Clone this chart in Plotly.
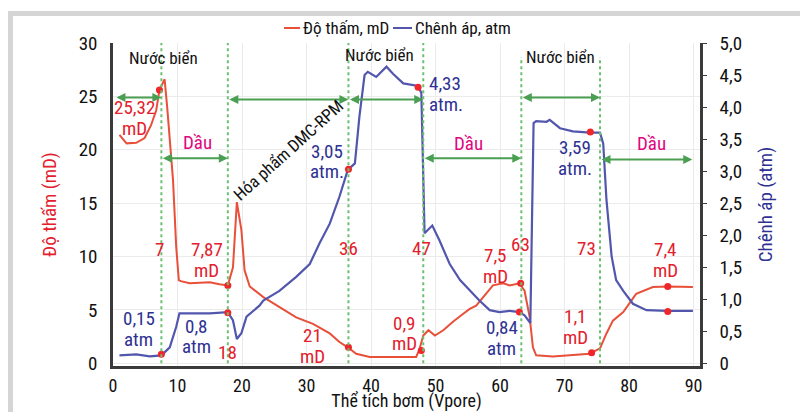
import plotly.graph_objects as go

# ---------------- data ----------------
vol_perm = [1.0, 2.1, 3.6, 4.9, 5.9, 6.7, 7.2, 8.0, 8.4, 9.3, 9.8, 10.2, 10.5, 11.9, 15.0, 16.5, 17.8,
            18.6, 19.2, 19.9, 20.4, 21.2, 23.3, 25.8, 28.4, 31.0, 33.6, 35.1, 36.4, 37.7, 39.8, 43.9,
            47.0, 47.5, 48.1, 48.9, 49.9, 51.2, 52.7, 54.3, 55.3, 56.3, 57.4, 58.9, 60.5, 61.5, 63.0,
            63.8, 64.6, 65.1, 65.6, 68.2, 73.9, 75.5, 76.5, 77.5, 79.1, 81.1, 83.7, 86.0, 89.9]
perm_md = [21.4, 20.6, 20.65, 21.1, 22.3, 23.7, 25.6, 26.6, 24.0, 17.2, 10.9, 7.8, 7.7, 7.5, 7.6, 7.4, 7.3,
           9.0, 15.1, 12.5, 8.7, 7.2, 6.2, 5.3, 4.3, 3.7, 2.8, 2.0, 1.5, 0.9, 0.6, 0.6,
           0.6, 1.3, 2.6, 3.1, 2.6, 3.1, 3.9, 4.65, 5.1, 5.4, 6.2, 7.3, 7.5, 7.3, 7.5,
           6.8, 4.3, 1.5, 0.75, 0.65, 0.9, 1.4, 2.8, 4.0, 4.8, 6.5, 7.15, 7.2, 7.15]

vol_dp = [1.0, 3.6, 5.7, 7.5, 8.8, 9.8, 10.3, 12.4, 15.0, 17.8, 18.6, 19.2, 19.9, 20.7, 22.7, 23.3,
          25.8, 28.4, 30.5, 32.0, 33.6, 35.1, 36.4, 37.5, 38.2, 39.0, 39.5, 40.8, 42.4, 43.4, 45.0,
          47.3, 47.8, 48.3, 49.5, 50.6, 52.2, 53.8, 55.3, 56.8, 58.4, 59.9, 61.5, 63.0, 63.8, 64.7,
          65.2, 65.6, 67.2, 67.7, 69.3, 71.3, 73.9, 75.5, 76.0, 76.5, 77.3, 78.0, 79.1, 80.6, 82.7,
          86.0, 89.9]
dp_atm = [0.125, 0.14, 0.11, 0.125, 0.25, 0.57, 0.78, 0.78, 0.78, 0.80, 0.67, 0.38, 0.47, 0.73, 0.90, 0.98,
          1.13, 1.35, 1.55, 1.87, 2.18, 2.60, 3.02, 3.12, 3.85, 4.50, 4.55, 4.47, 4.63, 4.52, 4.37,
          4.33, 4.22, 2.03, 2.15, 1.92, 1.55, 1.30, 1.14, 0.98, 0.83, 0.80, 0.82, 0.80, 0.75, 0.63,
          3.75, 3.78, 3.77, 3.80, 3.67, 3.62, 3.60, 3.60, 3.43, 2.55, 1.67, 1.30, 1.13, 0.93, 0.83,
          0.82, 0.82]

perm_pts_x = [7.2, 17.8, 36.5, 47.8, 63.2, 74.2, 86.0]
perm_pts_y = [25.6, 7.3, 1.5, 1.2, 7.5, 1.0, 7.2]
dp_pts_x = [7.5, 17.8, 36.5, 47.3, 63.0, 74.0, 86.0]
dp_pts_y = [0.14, 0.79, 3.03, 4.31, 0.80, 3.61, 0.81]

stage_bounds = [7.5, 17.8, 36.5, 48.1, 63.3, 75.5]

x_ticks = [0, 10, 20, 30, 40, 50, 60, 70, 80, 90]
y_ticks = [0, 5, 10, 15, 20, 25, 30]
y2_ticks = [0, 0.5, 1.0, 1.5, 2.0, 2.5, 3.0, 3.5, 4.0, 4.5, 5.0]
y2_ticktext = ["0", "0,5", "1,0", "1,5", "2,0", "2,5", "3,0", "3,5", "4,0", "4,5", "5,0"]

# ---------------- styles ----------------
FONT = "Roboto Condensed, DejaVu Sans Condensed, sans-serif"
RED_LINE = "#e8503a"
BLUE_LINE = "#5256ad"
RED_TXT = "#e3202c"
BLUE_TXT = "#2e3192"
MAG = "#e0077f"
GREEN = "#4a9f52"
GREEN_DASH = "#6cc070"
DOT = "#f0262a"

L, R, T, B = 113, 700, 43, 366
LINE_GAP = 0.97  # half of the line spacing of two-line labels, in mD units


def px(xp):
    return (xp - L) / (R - L)


def py(yp):
    return (B - yp) / (B - T)


fig = go.Figure()
fig.add_trace(go.Scatter(x=vol_perm, y=perm_md, mode="lines", name="Độ thấm, mD",
                         line=dict(color=RED_LINE, width=2), showlegend=False))
fig.add_trace(go.Scatter(x=vol_dp, y=dp_atm, mode="lines", name="Chênh áp, atm", yaxis="y2",
                         line=dict(color=BLUE_LINE, width=2.2), showlegend=False))
fig.add_trace(go.Scatter(x=perm_pts_x, y=perm_pts_y, mode="markers", showlegend=False,
                         marker=dict(color=DOT, size=7)))
fig.add_trace(go.Scatter(x=dp_pts_x, y=dp_pts_y, mode="markers", yaxis="y2", showlegend=False,
                         marker=dict(color=DOT, size=7)))

shapes = []
# outer frame (top and left gray band)
shapes.append(dict(type="rect", xref="paper", yref="paper", x0=px(8), x1=px(805), y0=py(16), y1=py(11),
                   fillcolor="#d5d5d5", line=dict(width=0), layer="below"))
shapes.append(dict(type="rect", xref="paper", yref="paper", x0=px(8), x1=px(13), y0=py(415), y1=py(11),
                   fillcolor="#d5d5d5", line=dict(width=0), layer="below"))
# stage boundary lines
tops = [30, 30, 30, 30, 28.7, 28.7]
for xb, tp in zip(stage_bounds, tops):
    shapes.append(dict(type="line", xref="x", yref="y", x0=xb, x1=xb, y0=0, y1=tp,
                       line=dict(color=GREEN_DASH, width=2, dash="dot")))
# custom legend
shapes.append(dict(type="line", xref="paper", yref="paper", x0=px(284), x1=px(300), y0=py(28), y1=py(28),
                   line=dict(color=RED_LINE, width=2)))
shapes.append(dict(type="line", xref="paper", yref="paper", x0=px(393), x1=px(412), y0=py(28), y1=py(28),
                   line=dict(color=BLUE_LINE, width=2)))

ann = []
ann.append(dict(xref="paper", yref="paper", x=px(301), y=py(28), text="Độ thấm, mD", showarrow=False,
                xanchor="left", yanchor="middle", font=dict(size=17, color="#111")))
ann.append(dict(xref="paper", yref="paper", x=px(413), y=py(28), text="Chênh áp, atm", showarrow=False,
                xanchor="left", yanchor="middle", font=dict(size=17, color="#111")))

# arrows
arrows = [(0.3, 7.5, 24.9), (7.5, 17.8, 19.2), (17.8, 36.5, 24.7), (36.5, 48.1, 24.7),
          (48.1, 63.3, 19.2), (63.3, 75.5, 24.9), (75.5, 89.8, 19.1)]
for x0, x1, yy in arrows:
    ann.append(dict(x=x1, y=yy, ax=x0, ay=yy, xref="x", yref="y", axref="x", ayref="y", text="",
                    showarrow=True, arrowhead=2, arrowside="end+start", arrowsize=0.9, arrowwidth=2,
                    arrowcolor=GREEN, standoff=0, startstandoff=0))


def txt(x, y, s, color, size=19, **kw):
    lines = s.split("\n")
    n = len(lines)
    for i, line in enumerate(lines):
        yy = y + LINE_GAP * (n - 1 - 2 * i)
        d = dict(x=x, y=yy, xref="x", yref="y", text=line, showarrow=False,
                 font=dict(size=size, color=color))
        d.update(kw)
        ann.append(d)


for xx, yy in [(7.8, 28.6), (41.3, 28.9), (69.3, 28.7)]:
    txt(xx, yy, "Nước biển", "#111", size=17)
for xx, yy in [(13.1, 20.7), (55.1, 20.6), (83.5, 20.6)]:
    txt(xx, yy, "Dầu", MAG, size=19)
txt(27.2, 20.0, "Hóa phẩm DMC-RPM", "#111", size=17, textangle=-42)

red_labels = [(3.4, 23.0, "25,32\nmD"), (7.2, 10.7, "7"), (14.5, 9.65, "7,87\nmD"), (17.8, 1.0, "18"),
              (31.0, 1.6, "21\nmD"), (36.5, 10.8, "36"), (45.2, 2.8, "0,9\nmD"), (47.9, 10.8, "47"),
              (59.3, 9.1, "7,5\nmD"), (63.2, 11.1, "63"), (73.4, 10.8, "73"), (71.7, 3.4, "1,1\nmD"),
              (85.7, 9.65, "7,4\nmD")]
for xx, yy, s in red_labels:
    txt(xx, yy, s, RED_TXT)
blue_labels = [(4.0, 3.2, "0,15\natm"), (12.9, 2.5, "0,8\natm"), (33.1, 18.9, "3,05\natm."),
               (60.3, 2.4, "0,84\natm"), (71.6, 19.2, "3,59\natm.")]
for xx, yy, s in blue_labels:
    txt(xx, yy, s, BLUE_TXT)
txt(48.6, 25.2, "4,33\natm.", BLUE_TXT, xanchor="left", align="left")

AX = "#3a3a3a"
fig.update_layout(
    width=800, height=412,
    margin=dict(l=L, r=800 - R, t=T, b=412 - B, autoexpand=False),
    paper_bgcolor="white", plot_bgcolor="white",
    font=dict(family=FONT, size=17, color="#111"),
    shapes=shapes, annotations=ann,
    xaxis=dict(range=[0, 91], tickvals=x_ticks, showgrid=True, gridcolor="#ebebeb", gridwidth=1,
               showline=True, linecolor=AX, linewidth=2.5, ticks="", zeroline=False, automargin=False,
               tickfont=dict(size=18, color="#111"), ticklabelstandoff=2,
               title=dict(text="Thể tích bơm (Vpore)", font=dict(size=18, color="#111"), standoff=2)),
    yaxis=dict(range=[-0.25, 30], tickvals=y_ticks, showgrid=True, gridcolor="#ebebeb", gridwidth=1,
               showline=True, linecolor=AX, linewidth=2.5, ticks="", zeroline=False, automargin=False,
               tickfont=dict(size=19, color="#111"), ticklabelstandoff=9,
               title=dict(text="Độ thấm (mD)", font=dict(size=19, color=RED_TXT), standoff=18)),
    yaxis2=dict(range=[-0.25 / 6, 5], tickvals=y2_ticks, ticktext=y2_ticktext, overlaying="y", side="right",
                showgrid=False, showline=True, linecolor=AX, linewidth=2.5, ticks="outside", ticklen=4,
                tickcolor=AX, zeroline=False, automargin=False, tickfont=dict(size=19, color="#111"),
                ticklabelstandoff=9,
                title=dict(text="Chênh áp (atm)", font=dict(size=19, color=BLUE_TXT), standoff=18)),
)

fig.write_html("out.html", config={"displayModeBar": False},
               post_script="document.body.style.margin='0';")
